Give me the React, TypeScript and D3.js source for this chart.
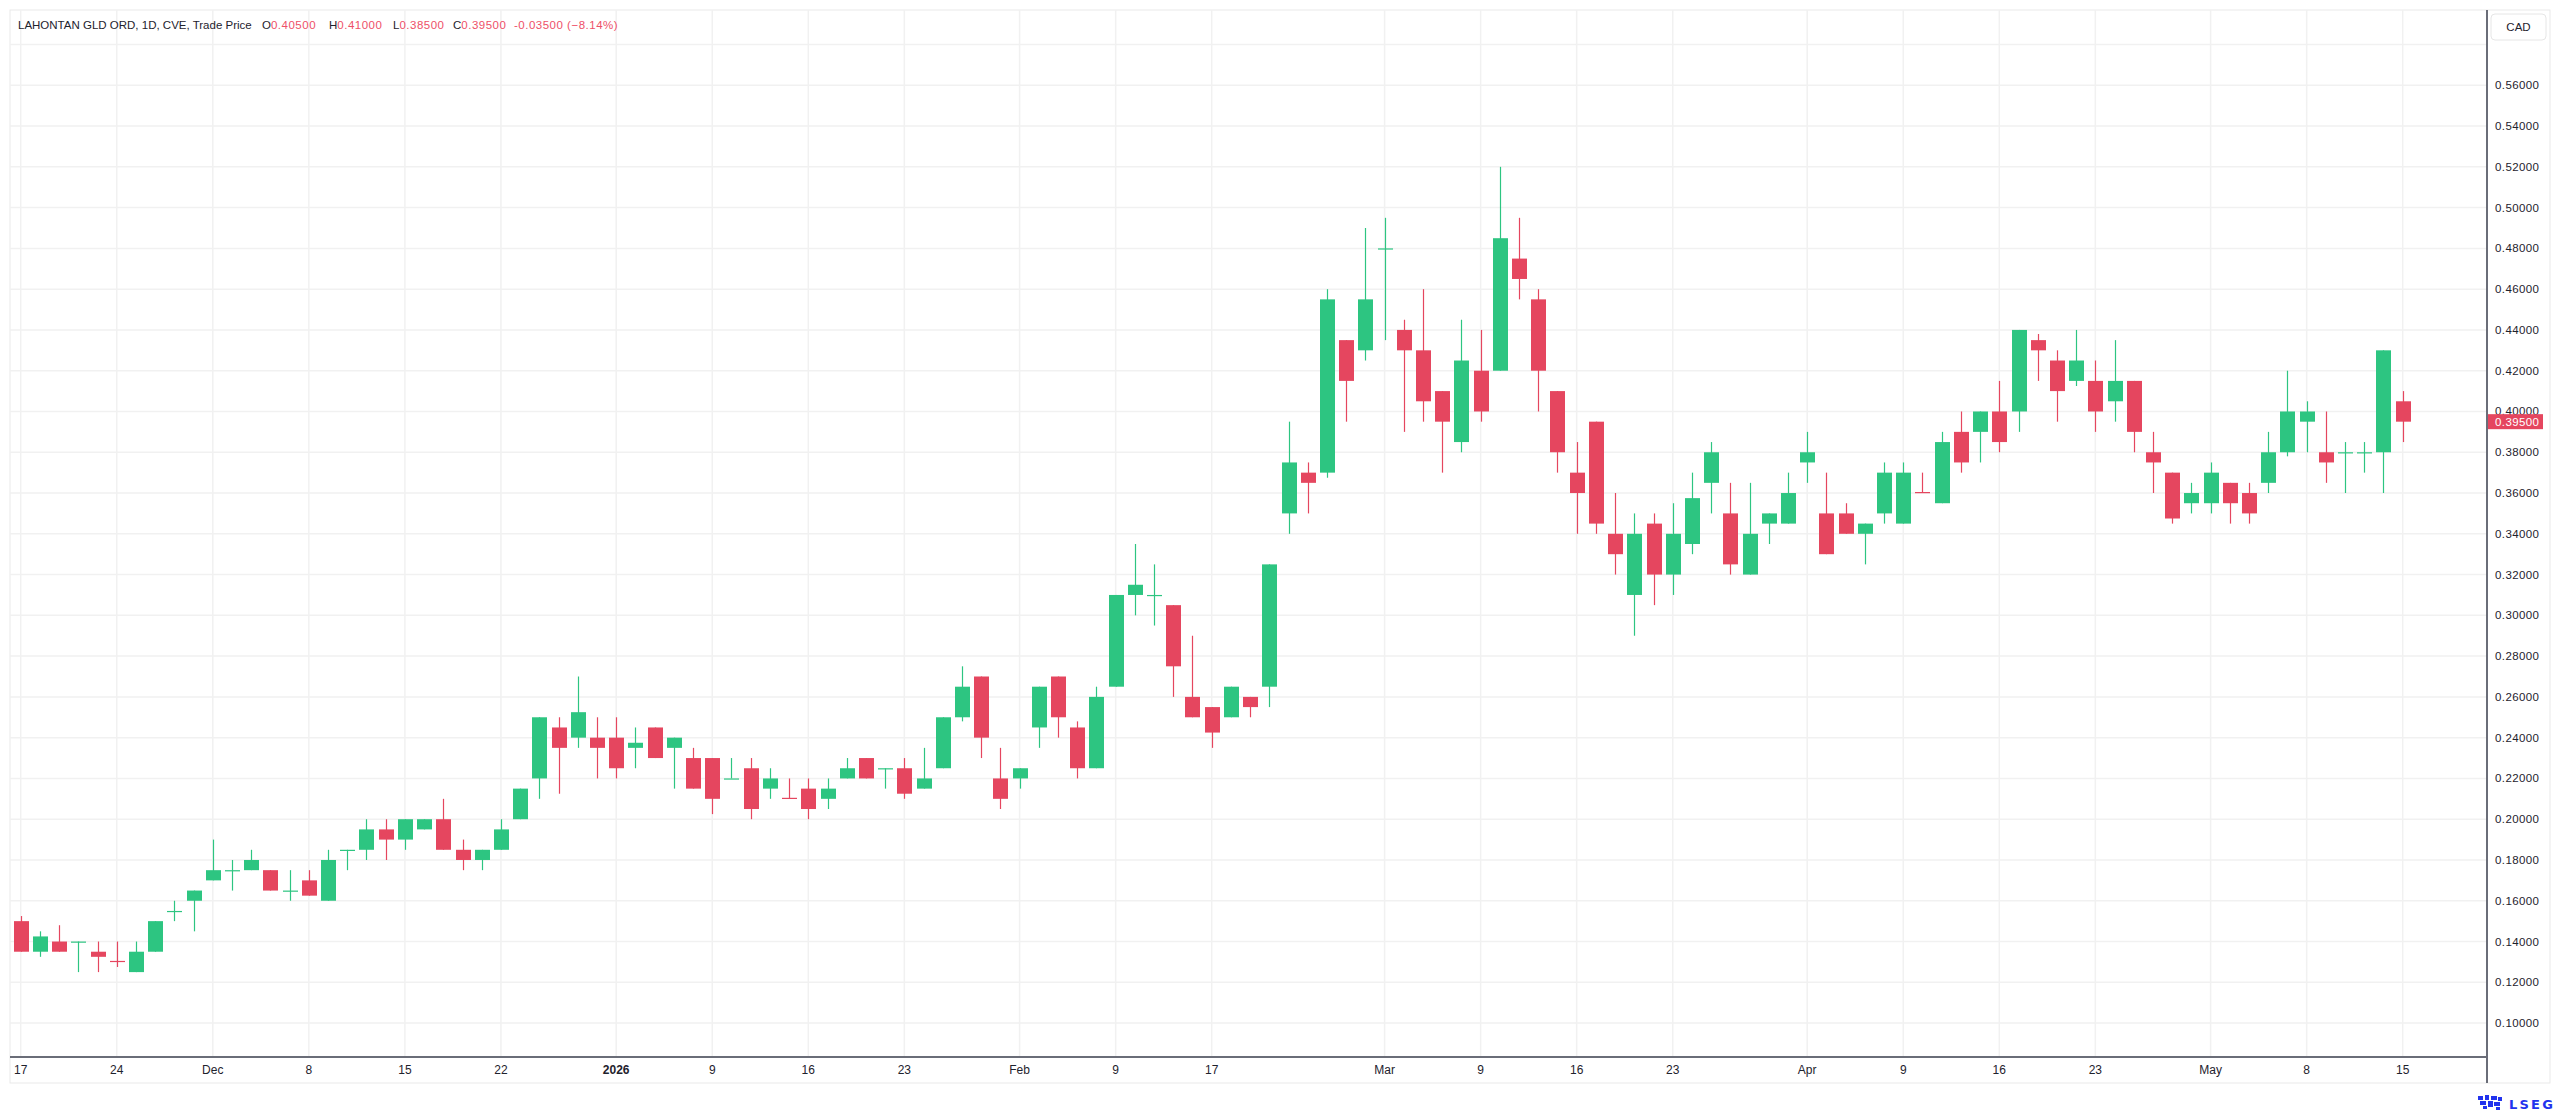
import React from "react";
import * as d3 from "d3";

// trading days shown on the chart
const dates = [
  "2025-11-17", "2025-11-18", "2025-11-19", "2025-11-20", "2025-11-21",
  "2025-11-24", "2025-11-25", "2025-11-26", "2025-11-27", "2025-11-28",
  "2025-12-01", "2025-12-02", "2025-12-03", "2025-12-04", "2025-12-05",
  "2025-12-08", "2025-12-09", "2025-12-10", "2025-12-11", "2025-12-12",
  "2025-12-15", "2025-12-16", "2025-12-17", "2025-12-18", "2025-12-19",
  "2025-12-22", "2025-12-23", "2025-12-24", "2025-12-29", "2025-12-30",
  "2025-12-31", "2026-01-02", "2026-01-05", "2026-01-06", "2026-01-07",
  "2026-01-08", "2026-01-09", "2026-01-12", "2026-01-13", "2026-01-14",
  "2026-01-15", "2026-01-16", "2026-01-19", "2026-01-20", "2026-01-21",
  "2026-01-22", "2026-01-23", "2026-01-26", "2026-01-27", "2026-01-28",
  "2026-01-29", "2026-01-30", "2026-02-02", "2026-02-03", "2026-02-04",
  "2026-02-05", "2026-02-06", "2026-02-09", "2026-02-10", "2026-02-11",
  "2026-02-12", "2026-02-13", "2026-02-17", "2026-02-18", "2026-02-19",
  "2026-02-20", "2026-02-23", "2026-02-24", "2026-02-25", "2026-02-26",
  "2026-02-27", "2026-03-02", "2026-03-03", "2026-03-04", "2026-03-05",
  "2026-03-06", "2026-03-09", "2026-03-10", "2026-03-11", "2026-03-12",
  "2026-03-13", "2026-03-16", "2026-03-17", "2026-03-18", "2026-03-19",
  "2026-03-20", "2026-03-23", "2026-03-24", "2026-03-25", "2026-03-26",
  "2026-03-27", "2026-03-30", "2026-03-31", "2026-04-01", "2026-04-02",
  "2026-04-06", "2026-04-07", "2026-04-08", "2026-04-09", "2026-04-10",
  "2026-04-13", "2026-04-14", "2026-04-15", "2026-04-16", "2026-04-17",
  "2026-04-20", "2026-04-21", "2026-04-22", "2026-04-23", "2026-04-24",
  "2026-04-27", "2026-04-28", "2026-04-29", "2026-04-30", "2026-05-01",
  "2026-05-04", "2026-05-05", "2026-05-06", "2026-05-07", "2026-05-08",
  "2026-05-11", "2026-05-12", "2026-05-13", "2026-05-14", "2026-05-15",
];

const open = [
  0.15, 0.135, 0.14, 0.14, 0.135, 0.1305, 0.125, 0.135, 0.155, 0.16,
  0.17, 0.175, 0.175, 0.175, 0.165, 0.17, 0.16, 0.185, 0.185, 0.195,
  0.19, 0.195, 0.2, 0.185, 0.18, 0.185, 0.2, 0.22, 0.245, 0.24,
  0.24, 0.24, 0.235, 0.245, 0.235, 0.23, 0.23, 0.22, 0.225, 0.215,
  0.2105, 0.215, 0.21, 0.22, 0.23, 0.225, 0.225, 0.215, 0.225, 0.25,
  0.27, 0.22, 0.22, 0.245, 0.27, 0.245, 0.225, 0.265, 0.31, 0.31,
  0.305, 0.26, 0.255, 0.25, 0.26, 0.265, 0.35, 0.37, 0.37, 0.435,
  0.43, 0.48, 0.44, 0.43, 0.41, 0.385, 0.42, 0.42, 0.475, 0.455,
  0.41, 0.37, 0.395, 0.34, 0.31, 0.345, 0.32, 0.335, 0.365, 0.35,
  0.32, 0.345, 0.345, 0.375, 0.35, 0.35, 0.34, 0.35, 0.345, 0.3605,
  0.355, 0.39, 0.39, 0.4, 0.4, 0.435, 0.425, 0.415, 0.415, 0.405,
  0.415, 0.38, 0.37, 0.355, 0.355, 0.365, 0.36, 0.365, 0.38, 0.395,
  0.38, 0.38, 0.38, 0.38, 0.405,
];

const high = [
  0.1525, 0.145, 0.148, 0.14, 0.14, 0.14, 0.14, 0.15, 0.16, 0.165,
  0.19, 0.18, 0.185, 0.175, 0.175, 0.175, 0.185, 0.185, 0.2, 0.2,
  0.2, 0.2, 0.21, 0.19, 0.185, 0.2, 0.215, 0.25, 0.25, 0.27,
  0.25, 0.25, 0.245, 0.245, 0.24, 0.235, 0.23, 0.23, 0.23, 0.225,
  0.22, 0.22, 0.22, 0.23, 0.23, 0.225, 0.23, 0.235, 0.25, 0.275,
  0.27, 0.235, 0.225, 0.265, 0.27, 0.248, 0.265, 0.31, 0.335, 0.325,
  0.305, 0.29, 0.255, 0.265, 0.26, 0.325, 0.395, 0.375, 0.46, 0.435,
  0.49, 0.495, 0.445, 0.46, 0.41, 0.445, 0.44, 0.52, 0.495, 0.46,
  0.41, 0.385, 0.395, 0.36, 0.35, 0.35, 0.355, 0.37, 0.385, 0.365,
  0.365, 0.35, 0.37, 0.39, 0.37, 0.355, 0.345, 0.375, 0.375, 0.37,
  0.39, 0.4, 0.4, 0.415, 0.44, 0.438, 0.43, 0.44, 0.425, 0.435,
  0.415, 0.39, 0.37, 0.365, 0.375, 0.365, 0.365, 0.39, 0.42, 0.405,
  0.4, 0.385, 0.385, 0.43, 0.41,
];

const low = [
  0.135, 0.1325, 0.135, 0.125, 0.125, 0.1275, 0.125, 0.135, 0.15, 0.145,
  0.17, 0.165, 0.175, 0.165, 0.16, 0.1625, 0.16, 0.175, 0.18, 0.18,
  0.185, 0.195, 0.185, 0.175, 0.175, 0.185, 0.2, 0.21, 0.2125, 0.235,
  0.22, 0.22, 0.225, 0.23, 0.215, 0.215, 0.2025, 0.22, 0.2, 0.21,
  0.21, 0.2, 0.205, 0.22, 0.22, 0.215, 0.21, 0.215, 0.225, 0.248,
  0.23, 0.205, 0.215, 0.235, 0.24, 0.22, 0.225, 0.265, 0.3, 0.295,
  0.26, 0.25, 0.235, 0.25, 0.25, 0.255, 0.34, 0.35, 0.3675, 0.395,
  0.425, 0.435, 0.39, 0.395, 0.37, 0.38, 0.395, 0.42, 0.455, 0.4,
  0.37, 0.34, 0.34, 0.32, 0.29, 0.305, 0.31, 0.33, 0.35, 0.32,
  0.32, 0.335, 0.345, 0.365, 0.33, 0.34, 0.325, 0.345, 0.345, 0.36,
  0.355, 0.37, 0.375, 0.38, 0.39, 0.415, 0.395, 0.4125, 0.39, 0.395,
  0.38, 0.36, 0.345, 0.35, 0.35, 0.345, 0.345, 0.36, 0.378, 0.38,
  0.365, 0.36, 0.37, 0.36, 0.385,
];

const close = [
  0.135, 0.1425, 0.135, 0.14, 0.1325, 0.13, 0.135, 0.15, 0.155, 0.165,
  0.175, 0.175, 0.18, 0.165, 0.165, 0.1625, 0.18, 0.185, 0.195, 0.19,
  0.2, 0.2, 0.185, 0.18, 0.185, 0.195, 0.215, 0.25, 0.235, 0.2525,
  0.235, 0.225, 0.2375, 0.23, 0.24, 0.215, 0.21, 0.22, 0.205, 0.22,
  0.21, 0.205, 0.215, 0.225, 0.22, 0.225, 0.2125, 0.22, 0.25, 0.265,
  0.24, 0.21, 0.225, 0.265, 0.25, 0.225, 0.26, 0.31, 0.315, 0.31,
  0.275, 0.25, 0.2425, 0.265, 0.255, 0.325, 0.375, 0.365, 0.455, 0.415,
  0.455, 0.48, 0.43, 0.405, 0.395, 0.425, 0.4, 0.485, 0.465, 0.42,
  0.38, 0.36, 0.345, 0.33, 0.34, 0.32, 0.34, 0.3575, 0.38, 0.325,
  0.34, 0.35, 0.36, 0.38, 0.33, 0.34, 0.345, 0.37, 0.37, 0.36,
  0.385, 0.375, 0.4, 0.385, 0.44, 0.43, 0.41, 0.425, 0.4, 0.415,
  0.39, 0.375, 0.3475, 0.36, 0.37, 0.355, 0.35, 0.38, 0.4, 0.4,
  0.375, 0.38, 0.38, 0.43, 0.395,
];

const tickDates = [
  "2025-11-17", "2025-11-24", "2025-12-01", "2025-12-08", "2025-12-15",
  "2025-12-22", "2026-01-02", "2026-01-09", "2026-01-16", "2026-01-23",
  "2026-02-02", "2026-02-09", "2026-02-17", "2026-03-02", "2026-03-09",
  "2026-03-16", "2026-03-23", "2026-04-01", "2026-04-09", "2026-04-16",
  "2026-04-23", "2026-05-01", "2026-05-08", "2026-05-15",
];
const tickLabels = [
  "17", "24", "Dec", "8", "15", "22", "2026", "9", "16", "23",
  "Feb", "9", "17", "Mar", "9", "16", "23", "Apr", "9", "16",
  "23", "May", "8", "15",
];

const priceTicks = d3.range(0.1, 0.5801, 0.02);

const W = 2560;
const H = 1115;
const UP = "#2dc581";
const DOWN = "#e5465f";
const HEAD_RED = "#ee5068";
const GRID = "#f1f1f1";
const TEXT = "#1e222d";
const FONT = "'Liberation Sans', Arial, sans-serif";

const App: React.FC = () => {
  const x = d3.scalePoint<string>().domain(dates).range([20.7, 2402.7]);
  const y = d3.scaleLinear().domain([0.12, 0.56]).range([982.3, 85.3]);
  const fmt = d3.format(".5f");

  const axisY = 1057;
  const rightX = 2487;
  const bodyW = 15;
  const n = close.length - 1;
  const last = close[n];

  // header fields: label, value, left position of the label
  const fields: [string, string, number][] = [
    ["O", fmt(open[n]), 262],
    ["H", fmt(high[n]), 329],
    ["L", fmt(low[n]), 393],
    ["C", fmt(last), 453],
  ];

  return (
    <svg
      width={W}
      height={H}
      style={{ position: "absolute", left: 0, top: 0, background: "#fff" }}
      fontFamily={FONT}
    >
      {/* frame */}
      <rect x={10} y={10} width={2540} height={1073} fill="none" stroke="#e9e9e9" />

      {/* grid */}
      {priceTicks.map((p) => (
        <line key={"h" + p} x1={10} x2={rightX} y1={y(p)} y2={y(p)} stroke={GRID} strokeWidth={1.5} />
      ))}
      {tickDates.map((d) => (
        <line key={"v" + d} x1={x(d)} x2={x(d)} y1={10} y2={axisY} stroke={GRID} strokeWidth={1.5} />
      ))}

      {/* candles */}
      {dates.map((d, i) => {
        const up = close[i] >= open[i];
        const c = up ? UP : DOWN;
        const cx = Math.round(x(d)!);
        const top = y(Math.max(open[i], close[i]));
        const bot = y(Math.min(open[i], close[i]));
        return (
          <g key={d}>
            <line x1={cx + 0.5} x2={cx + 0.5} y1={y(high[i])} y2={y(low[i])} stroke={c} strokeWidth={1.2} />
            <rect
              x={cx + 0.5 - bodyW / 2}
              y={top}
              width={bodyW}
              height={Math.max(1.2, bot - top)}
              fill={c}
            />
          </g>
        );
      })}

      {/* header */}
      <text x={18} y={29} fontSize={11.5} fill={TEXT}>
        LAHONTAN GLD ORD, 1D, CVE, Trade Price
      </text>
      {fields.map(([k, v, px]) => (
        <text key={k} x={px} y={29} fontSize={11.5} fill={TEXT}>
          {k}
          <tspan fill={HEAD_RED} letterSpacing={0.5}>
            {v}
          </tspan>
        </text>
      ))}
      <text x={514} y={29} fontSize={11.5} fill={HEAD_RED} letterSpacing={0.5}>
        -0.03500 (−8.14%)
      </text>

      {/* bottom axis */}
      <line x1={10} x2={rightX} y1={axisY} y2={axisY} stroke="#6a6d78" strokeWidth={2} />
      {tickDates.map((d, i) => (
        <text
          key={"t" + d}
          x={x(d)}
          y={1074}
          fontSize={12}
          fill={TEXT}
          textAnchor="middle"
          fontWeight={tickLabels[i] === "2026" ? "bold" : "normal"}
        >
          {tickLabels[i]}
        </text>
      ))}

      {/* right axis */}
      <line x1={rightX} x2={rightX} y1={10} y2={1083} stroke="#6a6d78" strokeWidth={2} />
      {priceTicks
        .filter((p) => p < 0.57)
        .map((p) => (
          <text key={"p" + p} x={2495} y={y(p) + 4} fontSize={11.5} fill={TEXT} letterSpacing={0.4}>
            {fmt(p)}
          </text>
        ))}
      <rect x={2491} y={14} width={55} height={26} rx={4} fill="#fff" stroke="#e6e6e6" />
      <text x={2518.5} y={31} fontSize={11.5} fill={TEXT} textAnchor="middle">
        CAD
      </text>
      <rect x={2488} y={y(last) - 7.5} width={55} height={15} fill={DOWN} />
      <text x={2495} y={y(last) + 4} fontSize={11.5} fill="#fff" letterSpacing={0.4}>
        {fmt(last)}
      </text>

      {/* logo */}
      <g fill="#2233ee">
        <rect x={2478} y={1096} width={5} height={4} />
        <rect x={2485} y={1095} width={4} height={5} />
        <rect x={2491} y={1096} width={6} height={4} />
        <rect x={2498} y={1097} width={4} height={4} />
        <rect x={2480} y={1101} width={6} height={4} />
        <rect x={2488} y={1101} width={5} height={6} />
        <rect x={2494} y={1102} width={6} height={4} />
        <rect x={2483} y={1106} width={4} height={3} />
        <rect x={2496} y={1107} width={4} height={3} />
        <text x={2509} y={1109} fontSize={13} fontWeight="bold" letterSpacing={2.2} fontFamily="'DejaVu Sans', sans-serif">
          LSEG
        </text>
      </g>
    </svg>
  );
};

export default App;
